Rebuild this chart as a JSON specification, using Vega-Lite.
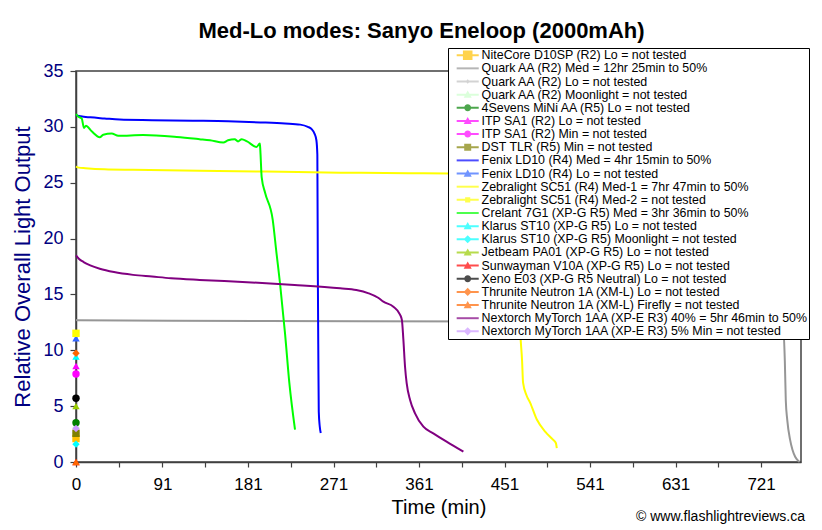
{
  "$schema": "https://vega.github.io/schema/vega-lite/v6.json",
  "width": 725,
  "height": 391,
  "autosize": {"type": "none"},
  "padding": {"left": 76, "top": 71, "right": 21, "bottom": 68},
  "background": "white",
  "title": {"text": "Med-Lo modes: Sanyo Eneloop (2000mAh)", "fontSize": 22, "fontWeight": "bold", "font": "Liberation Sans", "color": "black", "anchor": "middle", "frame": "group", "offset": 5, "dx": -17},
  "config": {
    "font": "Liberation Sans",
    "view": {"stroke": "#404040", "strokeWidth": 1.5},
    "axis": {"grid": false, "domainColor": "#404040", "tickColor": "#404040", "domainWidth": 1.5, "tickWidth": 1.2}
  },
  "datasets": {
    "lines": [
      {"s": "Quark AA (R2) Med = 12hr 25min to 50%", "t": 0, "v": 12.7},
      {"s": "Quark AA (R2) Med = 12hr 25min to 50%", "t": 100, "v": 12.65},
      {"s": "Quark AA (R2) Med = 12hr 25min to 50%", "t": 200, "v": 12.62},
      {"s": "Quark AA (R2) Med = 12hr 25min to 50%", "t": 300, "v": 12.6},
      {"s": "Quark AA (R2) Med = 12hr 25min to 50%", "t": 450, "v": 12.58},
      {"s": "Quark AA (R2) Med = 12hr 25min to 50%", "t": 600, "v": 12.55},
      {"s": "Quark AA (R2) Med = 12hr 25min to 50%", "t": 700, "v": 12.5},
      {"s": "Quark AA (R2) Med = 12hr 25min to 50%", "t": 744, "v": 12.4},
      {"s": "Quark AA (R2) Med = 12hr 25min to 50%", "t": 746, "v": 9},
      {"s": "Quark AA (R2) Med = 12hr 25min to 50%", "t": 747, "v": 5.5},
      {"s": "Quark AA (R2) Med = 12hr 25min to 50%", "t": 748.5, "v": 3.8},
      {"s": "Quark AA (R2) Med = 12hr 25min to 50%", "t": 751.5, "v": 2.0},
      {"s": "Quark AA (R2) Med = 12hr 25min to 50%", "t": 754, "v": 1.1},
      {"s": "Quark AA (R2) Med = 12hr 25min to 50%", "t": 757, "v": 0.45},
      {"s": "Quark AA (R2) Med = 12hr 25min to 50%", "t": 761.5, "v": 0},
      {"s": "Fenix LD10 (R4) Med = 4hr 15min to 50%", "t": 0, "v": 31.05},
      {"s": "Fenix LD10 (R4) Med = 4hr 15min to 50%", "t": 5, "v": 30.95},
      {"s": "Fenix LD10 (R4) Med = 4hr 15min to 50%", "t": 15, "v": 30.85},
      {"s": "Fenix LD10 (R4) Med = 4hr 15min to 50%", "t": 30, "v": 30.75},
      {"s": "Fenix LD10 (R4) Med = 4hr 15min to 50%", "t": 46, "v": 30.65},
      {"s": "Fenix LD10 (R4) Med = 4hr 15min to 50%", "t": 80, "v": 30.6},
      {"s": "Fenix LD10 (R4) Med = 4hr 15min to 50%", "t": 123, "v": 30.55},
      {"s": "Fenix LD10 (R4) Med = 4hr 15min to 50%", "t": 160, "v": 30.5},
      {"s": "Fenix LD10 (R4) Med = 4hr 15min to 50%", "t": 194, "v": 30.4},
      {"s": "Fenix LD10 (R4) Med = 4hr 15min to 50%", "t": 220, "v": 30.3},
      {"s": "Fenix LD10 (R4) Med = 4hr 15min to 50%", "t": 236, "v": 30.2},
      {"s": "Fenix LD10 (R4) Med = 4hr 15min to 50%", "t": 244, "v": 30.0},
      {"s": "Fenix LD10 (R4) Med = 4hr 15min to 50%", "t": 248, "v": 29.8},
      {"s": "Fenix LD10 (R4) Med = 4hr 15min to 50%", "t": 251, "v": 29.4},
      {"s": "Fenix LD10 (R4) Med = 4hr 15min to 50%", "t": 253, "v": 28.8},
      {"s": "Fenix LD10 (R4) Med = 4hr 15min to 50%", "t": 254, "v": 27.5},
      {"s": "Fenix LD10 (R4) Med = 4hr 15min to 50%", "t": 254.5, "v": 17},
      {"s": "Fenix LD10 (R4) Med = 4hr 15min to 50%", "t": 255, "v": 10},
      {"s": "Fenix LD10 (R4) Med = 4hr 15min to 50%", "t": 255.5, "v": 4.5},
      {"s": "Fenix LD10 (R4) Med = 4hr 15min to 50%", "t": 256.5, "v": 3.2},
      {"s": "Fenix LD10 (R4) Med = 4hr 15min to 50%", "t": 257.6, "v": 2.6},
      {"s": "Zebralight SC51 (R4) Med-1 = 7hr 47min to 50%", "t": 0, "v": 26.45},
      {"s": "Zebralight SC51 (R4) Med-1 = 7hr 47min to 50%", "t": 3, "v": 26.35},
      {"s": "Zebralight SC51 (R4) Med-1 = 7hr 47min to 50%", "t": 10, "v": 26.3},
      {"s": "Zebralight SC51 (R4) Med-1 = 7hr 47min to 50%", "t": 30, "v": 26.2},
      {"s": "Zebralight SC51 (R4) Med-1 = 7hr 47min to 50%", "t": 60, "v": 26.15},
      {"s": "Zebralight SC51 (R4) Med-1 = 7hr 47min to 50%", "t": 130, "v": 26.08},
      {"s": "Zebralight SC51 (R4) Med-1 = 7hr 47min to 50%", "t": 200, "v": 26.0},
      {"s": "Zebralight SC51 (R4) Med-1 = 7hr 47min to 50%", "t": 278, "v": 25.9},
      {"s": "Zebralight SC51 (R4) Med-1 = 7hr 47min to 50%", "t": 350, "v": 25.85},
      {"s": "Zebralight SC51 (R4) Med-1 = 7hr 47min to 50%", "t": 420, "v": 25.8},
      {"s": "Zebralight SC51 (R4) Med-1 = 7hr 47min to 50%", "t": 455, "v": 25.75},
      {"s": "Zebralight SC51 (R4) Med-1 = 7hr 47min to 50%", "t": 462, "v": 25.6},
      {"s": "Zebralight SC51 (R4) Med-1 = 7hr 47min to 50%", "t": 465, "v": 23},
      {"s": "Zebralight SC51 (R4) Med-1 = 7hr 47min to 50%", "t": 467, "v": 13},
      {"s": "Zebralight SC51 (R4) Med-1 = 7hr 47min to 50%", "t": 469.5, "v": 9},
      {"s": "Zebralight SC51 (R4) Med-1 = 7hr 47min to 50%", "t": 470.5, "v": 7.1},
      {"s": "Zebralight SC51 (R4) Med-1 = 7hr 47min to 50%", "t": 474, "v": 6.0},
      {"s": "Zebralight SC51 (R4) Med-1 = 7hr 47min to 50%", "t": 478, "v": 5.3},
      {"s": "Zebralight SC51 (R4) Med-1 = 7hr 47min to 50%", "t": 485, "v": 3.8},
      {"s": "Zebralight SC51 (R4) Med-1 = 7hr 47min to 50%", "t": 494, "v": 2.7},
      {"s": "Zebralight SC51 (R4) Med-1 = 7hr 47min to 50%", "t": 502, "v": 2.0},
      {"s": "Zebralight SC51 (R4) Med-1 = 7hr 47min to 50%", "t": 505, "v": 1.7},
      {"s": "Zebralight SC51 (R4) Med-1 = 7hr 47min to 50%", "t": 506, "v": 1.25},
      {"s": "Crelant 7G1 (XP-G R5) Med = 3hr 36min to 50%", "t": 0, "v": 31.15},
      {"s": "Crelant 7G1 (XP-G R5) Med = 3hr 36min to 50%", "t": 2.5, "v": 30.9},
      {"s": "Crelant 7G1 (XP-G R5) Med = 3hr 36min to 50%", "t": 6, "v": 30.75},
      {"s": "Crelant 7G1 (XP-G R5) Med = 3hr 36min to 50%", "t": 8.4, "v": 29.9},
      {"s": "Crelant 7G1 (XP-G R5) Med = 3hr 36min to 50%", "t": 10.5, "v": 30.1},
      {"s": "Crelant 7G1 (XP-G R5) Med = 3hr 36min to 50%", "t": 16.5, "v": 29.6},
      {"s": "Crelant 7G1 (XP-G R5) Med = 3hr 36min to 50%", "t": 25, "v": 29.07},
      {"s": "Crelant 7G1 (XP-G R5) Med = 3hr 36min to 50%", "t": 28.7, "v": 29.3},
      {"s": "Crelant 7G1 (XP-G R5) Med = 3hr 36min to 50%", "t": 37.5, "v": 29.4},
      {"s": "Crelant 7G1 (XP-G R5) Med = 3hr 36min to 50%", "t": 44.5, "v": 29.2},
      {"s": "Crelant 7G1 (XP-G R5) Med = 3hr 36min to 50%", "t": 70.5, "v": 29.27},
      {"s": "Crelant 7G1 (XP-G R5) Med = 3hr 36min to 50%", "t": 106, "v": 29.1},
      {"s": "Crelant 7G1 (XP-G R5) Med = 3hr 36min to 50%", "t": 130, "v": 28.9},
      {"s": "Crelant 7G1 (XP-G R5) Med = 3hr 36min to 50%", "t": 141, "v": 28.8},
      {"s": "Crelant 7G1 (XP-G R5) Med = 3hr 36min to 50%", "t": 155, "v": 28.6},
      {"s": "Crelant 7G1 (XP-G R5) Med = 3hr 36min to 50%", "t": 160, "v": 28.8},
      {"s": "Crelant 7G1 (XP-G R5) Med = 3hr 36min to 50%", "t": 167, "v": 28.9},
      {"s": "Crelant 7G1 (XP-G R5) Med = 3hr 36min to 50%", "t": 170.5, "v": 28.7},
      {"s": "Crelant 7G1 (XP-G R5) Med = 3hr 36min to 50%", "t": 174.4, "v": 28.9},
      {"s": "Crelant 7G1 (XP-G R5) Med = 3hr 36min to 50%", "t": 180, "v": 28.7},
      {"s": "Crelant 7G1 (XP-G R5) Med = 3hr 36min to 50%", "t": 190, "v": 28.2},
      {"s": "Crelant 7G1 (XP-G R5) Med = 3hr 36min to 50%", "t": 193.5, "v": 28.5},
      {"s": "Crelant 7G1 (XP-G R5) Med = 3hr 36min to 50%", "t": 194, "v": 27.9},
      {"s": "Crelant 7G1 (XP-G R5) Med = 3hr 36min to 50%", "t": 195.4, "v": 25.5},
      {"s": "Crelant 7G1 (XP-G R5) Med = 3hr 36min to 50%", "t": 199, "v": 24.1},
      {"s": "Crelant 7G1 (XP-G R5) Med = 3hr 36min to 50%", "t": 207, "v": 21.7},
      {"s": "Crelant 7G1 (XP-G R5) Med = 3hr 36min to 50%", "t": 211, "v": 18.7},
      {"s": "Crelant 7G1 (XP-G R5) Med = 3hr 36min to 50%", "t": 214.7, "v": 16},
      {"s": "Crelant 7G1 (XP-G R5) Med = 3hr 36min to 50%", "t": 220, "v": 11.5},
      {"s": "Crelant 7G1 (XP-G R5) Med = 3hr 36min to 50%", "t": 224.5, "v": 7.1},
      {"s": "Crelant 7G1 (XP-G R5) Med = 3hr 36min to 50%", "t": 230.5, "v": 2.9},
      {"s": "Nextorch MyTorch 1AA (XP-E R3) 40% = 5hr 46min to 50%", "t": 0, "v": 18.5},
      {"s": "Nextorch MyTorch 1AA (XP-E R3) 40% = 5hr 46min to 50%", "t": 3, "v": 18.2},
      {"s": "Nextorch MyTorch 1AA (XP-E R3) 40% = 5hr 46min to 50%", "t": 8, "v": 17.9},
      {"s": "Nextorch MyTorch 1AA (XP-E R3) 40% = 5hr 46min to 50%", "t": 15, "v": 17.6},
      {"s": "Nextorch MyTorch 1AA (XP-E R3) 40% = 5hr 46min to 50%", "t": 25, "v": 17.3},
      {"s": "Nextorch MyTorch 1AA (XP-E R3) 40% = 5hr 46min to 50%", "t": 40, "v": 17.0},
      {"s": "Nextorch MyTorch 1AA (XP-E R3) 40% = 5hr 46min to 50%", "t": 60, "v": 16.75},
      {"s": "Nextorch MyTorch 1AA (XP-E R3) 40% = 5hr 46min to 50%", "t": 80, "v": 16.6},
      {"s": "Nextorch MyTorch 1AA (XP-E R3) 40% = 5hr 46min to 50%", "t": 100, "v": 16.45},
      {"s": "Nextorch MyTorch 1AA (XP-E R3) 40% = 5hr 46min to 50%", "t": 130, "v": 16.3},
      {"s": "Nextorch MyTorch 1AA (XP-E R3) 40% = 5hr 46min to 50%", "t": 180, "v": 16.1},
      {"s": "Nextorch MyTorch 1AA (XP-E R3) 40% = 5hr 46min to 50%", "t": 230, "v": 15.85},
      {"s": "Nextorch MyTorch 1AA (XP-E R3) 40% = 5hr 46min to 50%", "t": 278, "v": 15.55},
      {"s": "Nextorch MyTorch 1AA (XP-E R3) 40% = 5hr 46min to 50%", "t": 295, "v": 15.4},
      {"s": "Nextorch MyTorch 1AA (XP-E R3) 40% = 5hr 46min to 50%", "t": 308, "v": 15.1},
      {"s": "Nextorch MyTorch 1AA (XP-E R3) 40% = 5hr 46min to 50%", "t": 318, "v": 14.7},
      {"s": "Nextorch MyTorch 1AA (XP-E R3) 40% = 5hr 46min to 50%", "t": 323.5, "v": 14.35},
      {"s": "Nextorch MyTorch 1AA (XP-E R3) 40% = 5hr 46min to 50%", "t": 334, "v": 13.9},
      {"s": "Nextorch MyTorch 1AA (XP-E R3) 40% = 5hr 46min to 50%", "t": 341, "v": 13.2},
      {"s": "Nextorch MyTorch 1AA (XP-E R3) 40% = 5hr 46min to 50%", "t": 343, "v": 12.7},
      {"s": "Nextorch MyTorch 1AA (XP-E R3) 40% = 5hr 46min to 50%", "t": 344.5, "v": 11},
      {"s": "Nextorch MyTorch 1AA (XP-E R3) 40% = 5hr 46min to 50%", "t": 346.3, "v": 8.5},
      {"s": "Nextorch MyTorch 1AA (XP-E R3) 40% = 5hr 46min to 50%", "t": 348, "v": 7.05},
      {"s": "Nextorch MyTorch 1AA (XP-E R3) 40% = 5hr 46min to 50%", "t": 351.6, "v": 5.55},
      {"s": "Nextorch MyTorch 1AA (XP-E R3) 40% = 5hr 46min to 50%", "t": 356.8, "v": 4.36},
      {"s": "Nextorch MyTorch 1AA (XP-E R3) 40% = 5hr 46min to 50%", "t": 365.6, "v": 3.16},
      {"s": "Nextorch MyTorch 1AA (XP-E R3) 40% = 5hr 46min to 50%", "t": 376, "v": 2.57},
      {"s": "Nextorch MyTorch 1AA (XP-E R3) 40% = 5hr 46min to 50%", "t": 390, "v": 1.82},
      {"s": "Nextorch MyTorch 1AA (XP-E R3) 40% = 5hr 46min to 50%", "t": 407.7, "v": 0.92}
    ],
    "markers": [
      {"s": "NiteCore D10SP (R2) Lo = not tested", "t": 0, "v": 2.1},
      {"s": "Quark AA (R2) Lo = not tested", "t": 0, "v": 2.6},
      {"s": "Quark AA (R2) Moonlight = not tested", "t": 0, "v": 3.3},
      {"s": "4Sevens MiNi AA (R5) Lo = not tested", "t": 0, "v": 3.52},
      {"s": "ITP SA1 (R2) Lo = not tested", "t": 0, "v": 8.6},
      {"s": "ITP SA1 (R2) Min = not tested", "t": 0, "v": 7.88},
      {"s": "DST TLR (R5) Min = not tested", "t": 0, "v": 2.57},
      {"s": "Fenix LD10 (R4) Lo = not tested", "t": 0, "v": 11.07},
      {"s": "Zebralight SC51 (R4) Med-2 = not tested", "t": 0, "v": 11.52},
      {"s": "Klarus ST10 (XP-G R5) Lo = not tested", "t": 0, "v": 9.43},
      {"s": "Klarus ST10 (XP-G R5) Moonlight = not tested", "t": 0, "v": 1.6},
      {"s": "Jetbeam PA01 (XP-G R5) Lo = not tested", "t": 0, "v": 5.0},
      {"s": "Sunwayman V10A (XP-G R5) Lo = not tested", "t": 0, "v": 0},
      {"s": "Xeno E03 (XP-G R5 Neutral) Lo = not tested", "t": 0, "v": 5.7},
      {"s": "Thrunite Neutron 1A (XM-L) Lo = not tested", "t": 0, "v": 9.73},
      {"s": "Thrunite Neutron 1A (XM-L) Firefly = not tested", "t": 0, "v": 0},
      {"s": "Nextorch MyTorch 1AA (XP-E R3) 5% Min = not tested", "t": 0, "v": 3.0}
    ],
    "credit": [{"label": "© www.flashlightreviews.ca"}]
  },
  "encoding": {
    "x": {"field": "t", "type": "quantitative", "scale": {"domain": [0, 763], "nice": false, "zero": false},
      "axis": {"title": "Time (min)", "titleFontSize": 20, "titleFontWeight": "normal", "titleColor": "black", "titlePadding": 5,
        "values": [0, 45.5, 91, 136, 181, 226, 271, 316, 361, 406, 451, 496, 541, 586, 631, 676, 721],
        "labelExpr": "indexof([0,91,181,271,361,451,541,631,721], datum.value) >= 0 ? datum.label : ''",
        "labelFontSize": 17, "labelColor": "black", "labelPadding": 9, "tickSize": 5, "labelFlush": false, "labelOverlap": false}},
    "y": {"field": "v", "type": "quantitative", "scale": {"domain": [0, 35], "nice": false},
      "axis": {"title": "Relative Overall Light Output", "titleFontSize": 22, "titleFontWeight": "normal", "titleColor": "#000080", "titlePadding": 8,
        "values": [0, 5, 10, 15, 20, 25, 30, 35], "labelFontSize": 18, "labelColor": "#000080", "labelPadding": 7, "tickSize": 6}}
  },
  "layer": [
    {
      "data": {"name": "lines"},
      "mark": {"type": "line", "strokeWidth": 2, "interpolate": "monotone"},
      "encoding": {
        "color": {"field": "s", "type": "nominal", "legend": null,
          "scale": {"domain": ["Quark AA (R2) Med = 12hr 25min to 50%", "Fenix LD10 (R4) Med = 4hr 15min to 50%", "Zebralight SC51 (R4) Med-1 = 7hr 47min to 50%", "Crelant 7G1 (XP-G R5) Med = 3hr 36min to 50%", "Nextorch MyTorch 1AA (XP-E R3) 40% = 5hr 46min to 50%"],
            "range": ["#969696", "#0000FF", "#FFFF00", "#00FF00", "#800080"]}}
      }
    },
    {
      "data": {"name": "markers"},
      "mark": {"type": "point", "filled": true, "opacity": 1, "size": 55},
      "encoding": {
        "color": {"field": "s", "type": "nominal", "legend": null,
          "scale": {"domain": ["NiteCore D10SP (R2) Lo = not tested", "Quark AA (R2) Lo = not tested", "Quark AA (R2) Moonlight = not tested", "4Sevens MiNi AA (R5) Lo = not tested", "ITP SA1 (R2) Lo = not tested", "ITP SA1 (R2) Min = not tested", "DST TLR (R5) Min = not tested", "Fenix LD10 (R4) Lo = not tested", "Zebralight SC51 (R4) Med-2 = not tested", "Klarus ST10 (XP-G R5) Lo = not tested", "Klarus ST10 (XP-G R5) Moonlight = not tested", "Jetbeam PA01 (XP-G R5) Lo = not tested", "Sunwayman V10A (XP-G R5) Lo = not tested", "Xeno E03 (XP-G R5 Neutral) Lo = not tested", "Thrunite Neutron 1A (XM-L) Lo = not tested", "Thrunite Neutron 1A (XM-L) Firefly = not tested", "Nextorch MyTorch 1AA (XP-E R3) 5% Min = not tested"],
            "range": ["#FFC000", "#C0C0C0", "#CCFFCC", "#008000", "#FF00FF", "#FF00FF", "#808000", "#3366FF", "#FFFF00", "#00FFFF", "#00FFFF", "#99CC00", "#FF0000", "#000000", "#FF6600", "#FF6600", "#CC99FF"]}},
        "shape": {"field": "s", "type": "nominal", "legend": null,
          "scale": {"domain": ["NiteCore D10SP (R2) Lo = not tested", "Quark AA (R2) Lo = not tested", "Quark AA (R2) Moonlight = not tested", "4Sevens MiNi AA (R5) Lo = not tested", "ITP SA1 (R2) Lo = not tested", "ITP SA1 (R2) Min = not tested", "DST TLR (R5) Min = not tested", "Fenix LD10 (R4) Lo = not tested", "Zebralight SC51 (R4) Med-2 = not tested", "Klarus ST10 (XP-G R5) Lo = not tested", "Klarus ST10 (XP-G R5) Moonlight = not tested", "Jetbeam PA01 (XP-G R5) Lo = not tested", "Sunwayman V10A (XP-G R5) Lo = not tested", "Xeno E03 (XP-G R5 Neutral) Lo = not tested", "Thrunite Neutron 1A (XM-L) Lo = not tested", "Thrunite Neutron 1A (XM-L) Firefly = not tested", "Nextorch MyTorch 1AA (XP-E R3) 5% Min = not tested"],
            "range": ["square", "diamond", "triangle-up", "circle", "triangle-up", "circle", "square", "triangle-up", "square", "triangle-up", "diamond", "triangle-up", "triangle-up", "circle", "diamond", "triangle-up", "diamond"]}}
      }
    },
    {
      "data": {"values": []},
      "mark": {"type": "point", "filled": true},
      "encoding": {
        "color": {"field": "s", "type": "nominal",
          "legend": {"title": null, "orient": "none", "legendX": 372, "legendY": -23, "padding": 1, "strokeColor": "black", "fillColor": "white", "labelFontSize": 12.4, "labelColor": "black", "labelLimit": 420, "symbolSize": 54, "symbolStrokeWidth": 0, "symbolOffset": 12.5, "labelOffset": 7.7, "rowPadding": 0.15, "symbolLimit": 0},
          "scale": {"domain": ["NiteCore D10SP (R2) Lo = not tested", "Quark AA (R2) Med = 12hr 25min to 50%", "Quark AA (R2) Lo = not tested", "Quark AA (R2) Moonlight = not tested", "4Sevens MiNi AA (R5) Lo = not tested", "ITP SA1 (R2) Lo = not tested", "ITP SA1 (R2) Min = not tested", "DST TLR (R5) Min = not tested", "Fenix LD10 (R4) Med = 4hr 15min to 50%", "Fenix LD10 (R4) Lo = not tested", "Zebralight SC51 (R4) Med-1 = 7hr 47min to 50%", "Zebralight SC51 (R4) Med-2 = not tested", "Crelant 7G1 (XP-G R5) Med = 3hr 36min to 50%", "Klarus ST10 (XP-G R5) Lo = not tested", "Klarus ST10 (XP-G R5) Moonlight = not tested", "Jetbeam PA01 (XP-G R5) Lo = not tested", "Sunwayman V10A (XP-G R5) Lo = not tested", "Xeno E03 (XP-G R5 Neutral) Lo = not tested", "Thrunite Neutron 1A (XM-L) Lo = not tested", "Thrunite Neutron 1A (XM-L) Firefly = not tested", "Nextorch MyTorch 1AA (XP-E R3) 40% = 5hr 46min to 50%", "Nextorch MyTorch 1AA (XP-E R3) 5% Min = not tested"],
            "range": ["#FFC000", "#969696", "#C0C0C0", "#CCFFCC", "#008000", "#FF00FF", "#FF00FF", "#808000", "#0000FF", "#3366FF", "#FFFF00", "#FFFF00", "#00FF00", "#00FFFF", "#00FFFF", "#99CC00", "#FF0000", "#000000", "#FF6600", "#FF6600", "#800080", "#CC99FF"]}},
        "shape": {"field": "s", "type": "nominal",
          "legend": {"title": null, "orient": "none", "legendX": 372, "legendY": -23, "padding": 1, "strokeColor": "black", "fillColor": "white", "labelFontSize": 12.4, "labelColor": "black", "labelLimit": 420, "symbolSize": 54, "symbolStrokeWidth": 0, "symbolOffset": 12.5, "labelOffset": 7.7, "rowPadding": 0.15, "symbolLimit": 0},
          "scale": {"domain": ["NiteCore D10SP (R2) Lo = not tested", "Quark AA (R2) Med = 12hr 25min to 50%", "Quark AA (R2) Lo = not tested", "Quark AA (R2) Moonlight = not tested", "4Sevens MiNi AA (R5) Lo = not tested", "ITP SA1 (R2) Lo = not tested", "ITP SA1 (R2) Min = not tested", "DST TLR (R5) Min = not tested", "Fenix LD10 (R4) Med = 4hr 15min to 50%", "Fenix LD10 (R4) Lo = not tested", "Zebralight SC51 (R4) Med-1 = 7hr 47min to 50%", "Zebralight SC51 (R4) Med-2 = not tested", "Crelant 7G1 (XP-G R5) Med = 3hr 36min to 50%", "Klarus ST10 (XP-G R5) Lo = not tested", "Klarus ST10 (XP-G R5) Moonlight = not tested", "Jetbeam PA01 (XP-G R5) Lo = not tested", "Sunwayman V10A (XP-G R5) Lo = not tested", "Xeno E03 (XP-G R5 Neutral) Lo = not tested", "Thrunite Neutron 1A (XM-L) Lo = not tested", "Thrunite Neutron 1A (XM-L) Firefly = not tested", "Nextorch MyTorch 1AA (XP-E R3) 40% = 5hr 46min to 50%", "Nextorch MyTorch 1AA (XP-E R3) 5% Min = not tested"],
            "range": [
              "M-3,-0.27H3V0.27H-3Z M-1.3,-1.3H1.3V1.3H-1.3Z",
              "M-3,-0.27H3V0.27H-3Z",
              "M-3,-0.27H3V0.27H-3Z M0,-0.6L0.6,0L0,0.6L-0.6,0Z",
              "M-3,-0.27H3V0.27H-3Z M0,-1.1L1.1,0.85H-1.1Z",
              "M-3,-0.27H3V0.27H-3Z M-0.95,0A0.95,0.95 0 1,1 0.95,0A0.95,0.95 0 1,1 -0.95,0Z",
              "M-3,-0.27H3V0.27H-3Z M0,-1.1L1.1,0.85H-1.1Z",
              "M-3,-0.27H3V0.27H-3Z M-0.95,0A0.95,0.95 0 1,1 0.95,0A0.95,0.95 0 1,1 -0.95,0Z",
              "M-3,-0.27H3V0.27H-3Z M-0.95,-0.95H0.95V0.95H-0.95Z",
              "M-3,-0.27H3V0.27H-3Z",
              "M-3,-0.27H3V0.27H-3Z M0,-1.1L1.1,0.85H-1.1Z",
              "M-3,-0.27H3V0.27H-3Z",
              "M-3,-0.27H3V0.27H-3Z M-0.7,-0.7H0.7V0.7H-0.7Z",
              "M-3,-0.27H3V0.27H-3Z",
              "M-3,-0.27H3V0.27H-3Z M0,-1.1L1.1,0.85H-1.1Z",
              "M-3,-0.27H3V0.27H-3Z M0,-1.1L1.1,0L0,1.1L-1.1,0Z",
              "M-3,-0.27H3V0.27H-3Z M0,-1.1L1.1,0.85H-1.1Z",
              "M-3,-0.27H3V0.27H-3Z M0,-1.1L1.1,0.85H-1.1Z",
              "M-3,-0.27H3V0.27H-3Z M-0.95,0A0.95,0.95 0 1,1 0.95,0A0.95,0.95 0 1,1 -0.95,0Z",
              "M-3,-0.27H3V0.27H-3Z M0,-1.1L1.1,0L0,1.1L-1.1,0Z",
              "M-3,-0.27H3V0.27H-3Z M0,-1.1L1.1,0.85H-1.1Z",
              "M-3,-0.27H3V0.27H-3Z",
              "M-3,-0.27H3V0.27H-3Z M0,-1.1L1.1,0L0,1.1L-1.1,0Z"
            ]}}
      }
    },
    {
      "data": {"name": "credit"},
      "mark": {"type": "text", "align": "right", "baseline": "alphabetic", "fontSize": 14, "color": "black", "dx": 4, "dy": 59},
      "encoding": {
        "x": {"value": "width"},
        "y": {"value": "height"},
        "text": {"field": "label"}
      }
    }
  ],
  "resolve": {"scale": {"color": "independent", "shape": "independent"}}
}
